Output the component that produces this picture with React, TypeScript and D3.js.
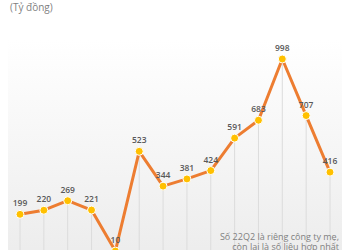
import React from "react";
import * as d3 from "d3";

const quarters = ["19Q1","19Q2","19Q3","19Q4","20Q1","20Q2","20Q3","20Q4","21Q1","21Q2","21Q3","21Q4","22Q1","22Q2"];
const values = [199, 220, 269, 221, 10, 523, 344, 381, 424, 591, 683, 998, 707, 416];
const unitLabel = "(Tỷ đồng)";
const noteLines = ["Số 22Q2 là riêng công ty mẹ,", "còn lại là số liệu hợp nhất"];

export default function App() {
  const W = 350, H = 250;
  const x = d3.scalePoint<string>().domain(quarters).range([20, 330]);
  const y = d3.scaleLinear().domain([0, 1000]).range([253, 58.6]);
  const line = d3.line<number>().x((_, i) => x(quarters[i])!).y(d => y(d));
  const font = "'Open Sans', 'Liberation Sans', sans-serif";
  return (
    <svg width={W} height={H} style={{ position: "absolute", left: 0, top: 0 }} fontFamily={font}>
      <defs>
        <linearGradient id="bg" x1="0" y1="0" x2="0" y2="1">
          <stop offset="0" stopColor="#ffffff" />
          <stop offset="1" stopColor="#ececec" />
        </linearGradient>
      </defs>
      <rect x={0} y={0} width={W} height={H} fill="#fff" />
      <rect x={8} y={40} width={334} height={220} fill="url(#bg)" />
      <text x={10} y={11} fontSize={10} fill="#7f7f7f">{unitLabel}</text>
      {values.map((v, i) => (
        <line key={"d" + i} x1={x(quarters[i])} x2={x(quarters[i])} y1={y(v)} y2={H} stroke="#dcdcdc" strokeWidth={1} />
      ))}
      <path d={line(values)!} fill="none" stroke="#ED7D31" strokeWidth={3} strokeLinejoin="round" />
      {values.map((v, i) => (
        <circle key={"c" + i} cx={x(quarters[i])} cy={y(v)} r={4} fill="#FFC000" stroke="#fff" strokeWidth={1} />
      ))}
      {values.map((v, i) => (
        <text key={"t" + i} x={x(quarters[i])} y={y(v) - 8} fontSize={8.5} fontWeight={600} fill="#595959" textAnchor="middle">{v}</text>
      ))}
      {noteLines.map((t, i) => (
        <text key={"n" + i} x={339} y={240 + i * 10} fontSize={9} fill="#7f7f7f" textAnchor="end">{t}</text>
      ))}
    </svg>
  );
}
